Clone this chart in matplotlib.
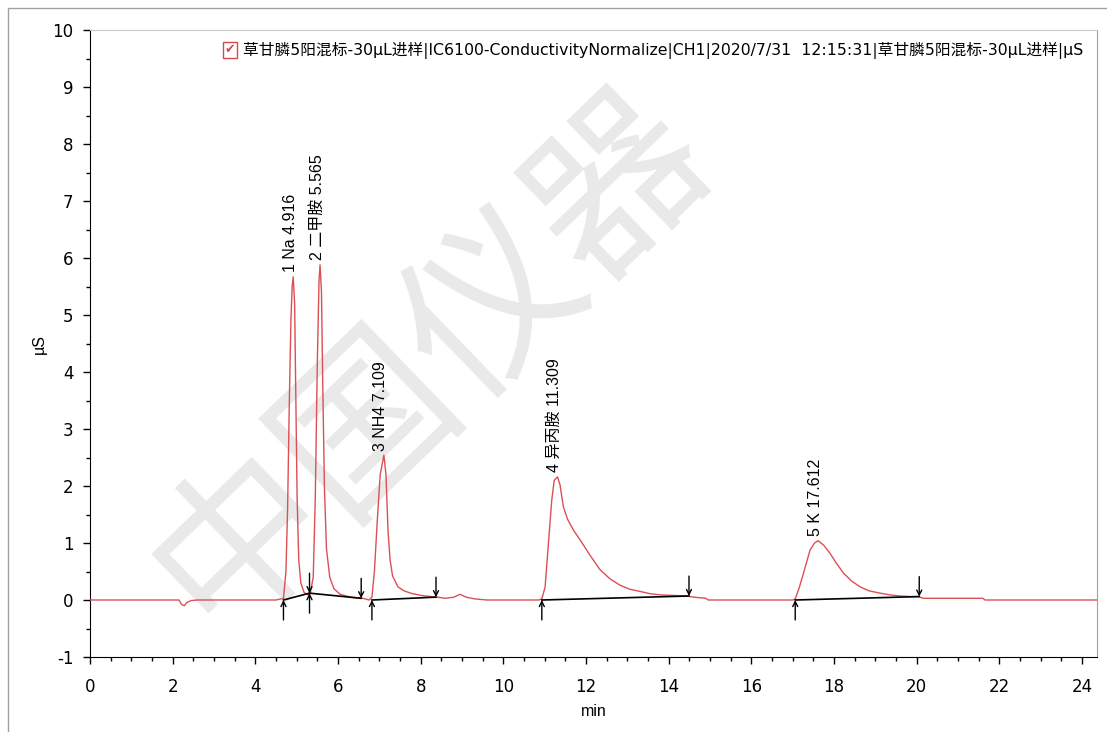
import matplotlib
matplotlib.use("Agg")
import matplotlib.pyplot as plt
from matplotlib.patches import Rectangle

plt.rcParams['font.family'] = ['DejaVu Sans', 'Noto Sans CJK SC']
plt.rcParams['axes.unicode_minus'] = False

# chromatogram trace (min, uS)
t = [0.0, 2.15, 2.22, 2.28, 2.35, 2.45, 2.6, 4.5, 4.68, 4.74, 4.78, 4.82, 4.86, 4.89, 4.916,
     4.95, 4.98, 5.01, 5.05, 5.10, 5.18, 5.27, 5.33, 5.40, 5.45, 5.50, 5.54, 5.565, 5.60,
     5.63, 5.67, 5.72, 5.80, 5.90, 6.05, 6.30, 6.60, 6.75, 6.82, 6.88, 6.95, 7.02, 7.109,
     7.16, 7.21, 7.26, 7.32, 7.45, 7.60, 7.80, 8.10, 8.40, 8.60, 8.80, 8.95, 9.10, 9.30,
     9.60, 10.85, 10.93, 11.01, 11.09, 11.17, 11.23, 11.309, 11.37, 11.45, 11.55, 11.70,
     11.86, 12.10, 12.34, 12.58, 12.82, 13.05, 13.31, 13.55, 13.79, 14.10, 14.45, 14.60,
     14.90, 14.95, 17.0, 17.06, 17.15, 17.26, 17.42, 17.53, 17.612, 17.75, 17.90, 18.05,
     18.23, 18.43, 18.63, 18.85, 19.11, 19.35, 19.60, 19.85, 20.05, 20.15, 21.6, 21.65, 24.4]
sig = [0.0, 0.0, -0.08, -0.1, -0.04, -0.01, 0.0, 0.0, 0.03, 0.5, 1.6, 3.4, 4.9, 5.5, 5.67,
       5.2, 3.5, 1.8, 0.7, 0.3, 0.13, 0.09, 0.12, 0.4, 1.8, 4.2, 5.6, 5.88, 5.4,
       3.8, 2.0, 0.9, 0.4, 0.2, 0.1, 0.05, 0.03, 0.0, 0.05, 0.5, 1.4, 2.2, 2.54,
       2.2, 1.2, 0.7, 0.42, 0.23, 0.16, 0.11, 0.07, 0.05, 0.03, 0.05, 0.1, 0.05, 0.02,
       0.0, 0.0, 0.02, 0.23, 1.0, 1.75, 2.1, 2.16, 2.02, 1.64, 1.42, 1.22,
       1.05, 0.78, 0.53, 0.37, 0.26, 0.19, 0.15, 0.11, 0.09, 0.08, 0.07, 0.05,
       0.03, 0.0, 0.0, 0.02, 0.2, 0.47, 0.88, 1.0, 1.04, 0.96, 0.82, 0.65,
       0.47, 0.33, 0.23, 0.16, 0.12, 0.09, 0.07, 0.06, 0.06, 0.03, 0.03, 0.0, 0.0]

# peak annotations
peak_labels = ['1 Na 4.916', '2 二甲胺 5.565', '3 NH4 7.109', '4 异丙胺 11.309', '5 K 17.612']
peak_rt = [4.916, 5.565, 7.109, 11.309, 17.612]
peak_h = [5.67, 5.88, 2.54, 2.16, 1.05]

# integration baselines: (start t, start y, end t, end y)
base_t0 = [4.68, 5.31, 6.82, 10.93, 17.06]
base_y0 = [0.0, 0.12, 0.0, 0.0, 0.0]
base_t1 = [5.31, 6.56, 8.37, 14.49, 20.06]
base_y1 = [0.12, 0.03, 0.05, 0.07, 0.06]

legend_text = '草甘膦5阳混标-30µL进样|IC6100-ConductivityNormalize|CH1|2020/7/31  12:15:31|草甘膦5阳混标-30µL进样|µS'

fig = plt.figure(figsize=(11.07, 7.32), dpi=100)
ax = fig.add_axes([90 / 1107, 75 / 732, 1007 / 1107, 627 / 732])

# watermark, behind the trace
ax.text(430 / 1107, 1 - 360 / 732, '中国仪器', fontsize=125, rotation=44, transform=fig.transFigure,
        color='#e9e9e9', ha='center', va='center', family=['Noto Sans CJK SC'], zorder=0,
        clip_on=False)

# outer frame
fig.patches.append(Rectangle((8 / 1107, -0.05), 1.2, 1 - 8 / 732 + 0.05, transform=fig.transFigure,
                             fill=False, edgecolor='#a0a0a0', lw=1))

ax.plot(t, sig, color='#dc4f55', lw=1, zorder=3)

for i in range(len(base_t0)):
    ax.plot([base_t0[i], base_t1[i]], [base_y0[i], base_y1[i]], color='black', lw=1.2, zorder=4)
    ax.annotate('', xy=(base_t0[i], base_y0[i]), xytext=(base_t0[i], base_y0[i] - 0.35),
                arrowprops=dict(arrowstyle='->', color='black', lw=1, shrinkA=0, shrinkB=0,
                                mutation_scale=9), zorder=5)
    ax.annotate('', xy=(base_t1[i], base_y1[i]), xytext=(base_t1[i], base_y1[i] + 0.35),
                arrowprops=dict(arrowstyle='->', color='black', lw=1, shrinkA=0, shrinkB=0,
                                mutation_scale=9), zorder=5)

for lab, rt, h in zip(peak_labels, peak_rt, peak_h):
    ax.text(rt - 0.07, h + 0.08, lab, rotation=90, ha='center', va='bottom', fontsize=11.5,
            family=['Liberation Sans', 'Noto Sans CJK SC'], zorder=6)

ax.set_xlim(0, 24.36)
ax.set_ylim(-1, 10)
ax.set_xticks(range(0, 25, 2))
ax.set_xticks([x * 0.5 for x in range(0, 49)], minor=True)
ax.set_yticks(range(-1, 11))
ax.set_yticks([y * 0.5 for y in range(-2, 21)], minor=True)
ax.tick_params(which='major', direction='out', length=5, labelsize=12, width=1)
ax.tick_params(which='minor', direction='out', length=3, width=1)
ax.tick_params(axis='x', which='major', pad=10)
ax.tick_params(axis='y', which='major', pad=7)
ax.spines['top'].set_color('#c8c8c8')
ax.spines['right'].set_color('#a0a0a0')
ax.set_xlabel('min', fontsize=11.5, family=['Liberation Sans'], labelpad=6)
ax.set_ylabel('µS', fontsize=11.5, family=['Liberation Sans'], labelpad=4)

# legend entry with checkbox
fig.text(230 / 1107, 1 - 50 / 732, '✔', color='#d9474c', fontsize=9, ha='center', va='center',
         bbox=dict(boxstyle='square,pad=0.15', fc='white', ec='#d9474c', lw=1))
fig.text(243 / 1107, 1 - 50 / 732, legend_text, fontsize=11.3, ha='left', va='center',
         family=['DejaVu Sans', 'Noto Sans CJK SC'])

fig.savefig('out.png', dpi=100)
